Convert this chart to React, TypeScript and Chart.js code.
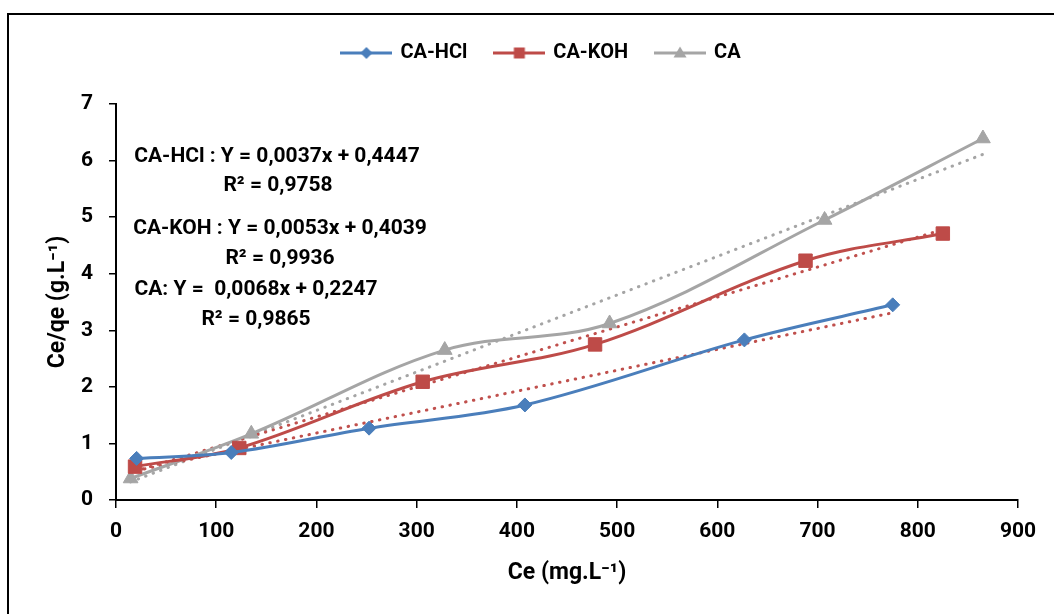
import React, { useEffect, useRef } from "react";
import { Chart, registerables } from "chart.js";

Chart.register(...registerables);

// ---- data ----
const seriesNames = ["CA-HCl", "CA-KOH", "CA"];

const hclCe = [20.6, 115, 252.5, 408, 627, 775];
const hclQ = [0.735, 0.84, 1.27, 1.68, 2.83, 3.45];

const kohCe = [19, 123, 306, 478, 688, 825];
const kohQ = [0.59, 0.92, 2.09, 2.75, 4.23, 4.71];

const caCe = [14.6, 135, 328, 492.5, 707, 865];
const caQ = [0.38, 1.17, 2.65, 3.12, 4.95, 6.39];

// linear trend lines (end points as drawn)
const trendHclCe = [20.6, 775];
const trendHclQ = [0.52, 3.31];
const trendKohCe = [19, 825];
const trendKohQ = [0.51, 4.78];
const trendCaCe = [14.6, 865];
const trendCaQ = [0.32, 6.11];

const equationLines = [
  "CA-HCl : Y = 0,0037x + 0,4447",
  "R\u00B2 = 0,9758",
  "CA-KOH : Y = 0,0053x + 0,4039",
  "R\u00B2 = 0,9936",
  "CA: Y =  0,0068x + 0,2247",
  "R\u00B2 = 0,9865",
];

const xTitle = "Ce (mg.L\u207B\u00B9)";
const yTitle = "Ce/qe (g.L\u207B\u00B9)";
const xMin = 0;
const xMax = 900;
const xStep = 100;
const yMin = 0;
const yMax = 7;
const yStep = 1;

// ---- styles ----
const BLUE = "#4A7EBB";
const RED = "#BE4B48";
const GREY = "#A5A5A5";
const TREND_RED = "#C0504D";
const TREND_GREY = "#A5A5A5";
const FONT = "Roboto";

const eqPos: [number, number][] = [
  [277, 157],
  [278, 186],
  [280, 229],
  [280, 259],
  [256, 290],
  [256, 320],
];

function pts(xs: number[], ys: number[]) {
  return xs.map((x, i) => ({ x, y: ys[i] }));
}

function makeIcon(color: string, shape: string) {
  const c = document.createElement("canvas");
  c.width = 52;
  c.height = 20;
  const g = c.getContext("2d")!;
  g.strokeStyle = color;
  g.lineWidth = 3;
  g.beginPath();
  g.moveTo(0, 10);
  g.lineTo(52, 10);
  g.stroke();
  g.fillStyle = color;
  g.beginPath();
  if (shape === "diamond") {
    g.moveTo(26, 4);
    g.lineTo(32, 10);
    g.lineTo(26, 16);
    g.lineTo(20, 10);
  } else if (shape === "square") {
    g.rect(20.5, 4.5, 11, 11);
  } else {
    g.moveTo(26, 3.5);
    g.lineTo(32.5, 14.5);
    g.lineTo(19.5, 14.5);
  }
  g.closePath();
  g.fill();
  return c;
}

const framePlugin = {
  id: "frame",
  beforeDraw(chart: any) {
    const ctx = chart.ctx;
    ctx.save();
    ctx.fillStyle = "#fff";
    ctx.fillRect(0, 0, chart.width, chart.height);
    ctx.strokeStyle = "#000";
    ctx.lineWidth = 2;
    ctx.strokeRect(8, 14, chart.width + 10, chart.height + 10);
    ctx.restore();
  },
};

const equationsPlugin = {
  id: "equations",
  afterDraw(chart: any) {
    const ctx = chart.ctx;
    ctx.save();
    ctx.font = `bold 21px ${FONT}`;
    ctx.fillStyle = "#000";
    ctx.textAlign = "center";
    ctx.textBaseline = "middle";
    equationLines.forEach((t, i) => ctx.fillText(t, eqPos[i][0], eqPos[i][1]));
    ctx.restore();
  },
};

export default function App() {
  const ref = useRef<HTMLCanvasElement>(null);

  useEffect(() => {
    const canvas = ref.current!;
    const icons = [makeIcon(BLUE, "diamond"), makeIcon(RED, "square"), makeIcon(GREY, "triangle")];

    const dataLine = (label: string, data: any, color: string, style: string, r: number) => ({
      label,
      data,
      showLine: true,
      borderColor: color,
      backgroundColor: color,
      borderWidth: 3,
      tension: 0.35,
      pointStyle: style,
      pointRadius: r,
      pointHoverRadius: r,
      pointBorderWidth: 1,
      pointBorderColor: color,
      pointBackgroundColor: color,
    });
    const trendLine = (label: string, data: any, color: string) => ({
      label,
      data,
      showLine: true,
      borderColor: color,
      backgroundColor: color,
      borderWidth: 3,
      borderDash: [0.5, 7.5],
      borderCapStyle: "round",
      tension: 0,
      pointRadius: 0,
      pointHoverRadius: 0,
    });

    const chart = new Chart(canvas, {
      type: "scatter",
      data: {
        datasets: [
          dataLine(seriesNames[0], pts(hclCe, hclQ), BLUE, "rectRot", 7),
          dataLine(seriesNames[1], pts(kohCe, kohQ), RED, "rect", 9.5),
          dataLine(seriesNames[2], pts(caCe, caQ), GREY, "triangle", 8.5),
          trendLine("trend HCl", pts(trendHclCe, trendHclQ), TREND_RED),
          trendLine("trend KOH", pts(trendKohCe, trendKohQ), TREND_RED),
          trendLine("trend CA", pts(trendCaCe, trendCaQ), TREND_GREY),
        ] as any,
      },
      options: {
        responsive: false,
        animation: false,
        devicePixelRatio: 1,
        events: [],
        layout: { padding: { left: 29, right: 0, top: 15, bottom: 0 } },
        plugins: {
          tooltip: { enabled: false },
          legend: {
            display: true,
            position: "top",
            labels: {
              usePointStyle: true,
              pointStyleWidth: 48,
              padding: 28,
              color: "#000",
              font: { family: FONT, size: 20, weight: "bold" },
              generateLabels: (ch: any) => {
                const items = (Chart.defaults.plugins.legend.labels as any).generateLabels(ch);
                return items
                  .filter((it: any) => it.datasetIndex < 3)
                  .map((it: any) => ({ ...it, pointStyle: icons[it.datasetIndex] }));
              },
            },
          },
          subtitle: {
            display: true,
            text: "",
            position: "top",
            weight: 500,
            font: { size: 1, lineHeight: 1 },
            padding: { top: 15, bottom: 15 },
          } as any,
        },
        scales: {
          x: {
            type: "linear",
            min: xMin,
            max: xMax,
            ticks: {
              stepSize: xStep,
              color: "#000",
              padding: 11,
              font: { family: FONT, size: 21, weight: "bold" },
            },
            grid: { drawOnChartArea: false, drawTicks: true, tickLength: 8, color: "#000", lineWidth: 1.5 },
            border: { display: true, color: "#000", width: 2 },
            title: {
              display: true,
              text: xTitle,
              color: "#000",
              font: { family: FONT, size: 23, weight: "bold" },
              padding: { top: 0, bottom: 27 },
            },
            afterFit: (s: any) => {
              s.height = 114;
              s.paddingRight = 36;
            },
          },
          y: {
            type: "linear",
            min: yMin,
            max: yMax,
            ticks: {
              stepSize: yStep,
              color: "#000",
              padding: 16,
              font: { family: FONT, size: 21, weight: "bold" },
            },
            grid: { drawOnChartArea: false, drawTicks: true, tickLength: 7, color: "#000", lineWidth: 1.5 },
            border: { display: true, color: "#000", width: 2 },
            title: {
              display: true,
              text: yTitle,
              color: "#000",
              font: { family: FONT, size: 23, weight: "bold" },
              padding: { top: 15, bottom: 0 },
            },
            afterFit: (s: any) => {
              s.width = 87;
            },
          },
        },
      } as any,
      plugins: [framePlugin, equationsPlugin],
    });

    return () => chart.destroy();
  }, []);

  return (
    <div style={{ position: "fixed", left: 0, top: 0, width: 1054, height: 614, background: "#fff" }}>
      <canvas ref={ref} width={1054} height={614} style={{ display: "block" }} />
    </div>
  );
}
